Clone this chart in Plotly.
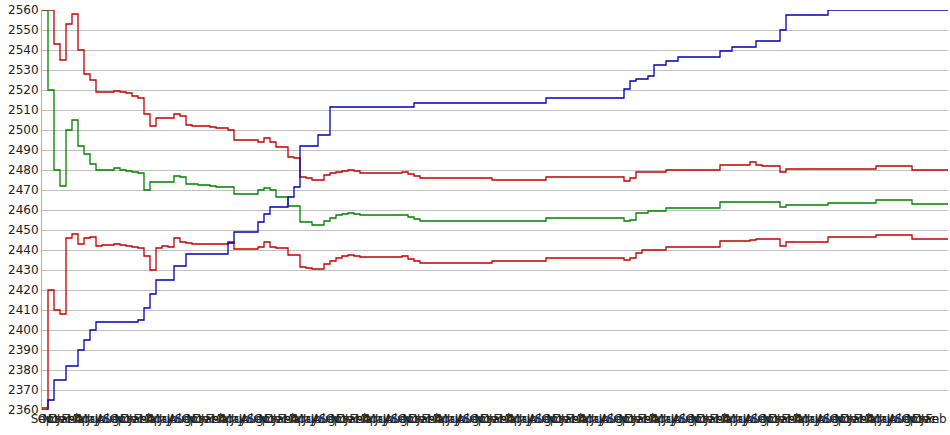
import plotly.graph_objects as go

months = ["Sep", "Oct", "Nov", "Dec", "Jan", "Feb", "Mar", "Apr", "May", "Jun", "Jul", "Aug"]

blue_vals = [
    2360, 2365, 2375, 2375, 2382, 2382, 2390, 2395, 2400, 2404,
    2404, 2404, 2404, 2404, 2404, 2404, 2405, 2411, 2418, 2425,
    2425, 2425, 2432, 2432, 2438, 2438, 2438, 2438, 2438, 2438,
    2438, 2443.5, 2449, 2449, 2449, 2449, 2454, 2458, 2461.5, 2461.5,
    2461.5, 2466.5, 2471.5, 2492, 2492, 2492, 2497.5, 2497.5, 2511.5, 2511.5,
    2511.5, 2511.5, 2511.5, 2511.5, 2511.5, 2511.5, 2511.5, 2511.5, 2511.5, 2511.5,
    2511.5, 2511.5, 2513.5, 2513.5, 2513.5, 2513.5, 2513.5, 2513.5, 2513.5, 2513.5,
    2513.5, 2513.5, 2513.5, 2513.5, 2513.5, 2513.5, 2513.5, 2513.5, 2513.5, 2513.5,
    2513.5, 2513.5, 2513.5, 2513.5, 2516, 2516, 2516, 2516, 2516, 2516,
    2516, 2516, 2516, 2516, 2516, 2516, 2516, 2520.5, 2524.5, 2525.5,
    2525.5, 2527, 2532.5, 2532.5, 2534.5, 2534.5, 2536.5, 2536.5, 2536.5, 2536.5,
    2536.5, 2536.5, 2536.5, 2539.5, 2539.5, 2541.5, 2541.5, 2541.5, 2541.5, 2544.5,
    2544.5, 2544.5, 2544.5, 2550, 2557.5, 2557.5, 2557.5, 2557.5, 2557.5, 2557.5,
    2557.5, 2560, 2560, 2560, 2560, 2560, 2560, 2560, 2560, 2560,
    2560, 2560, 2560, 2560, 2560, 2560, 2560, 2560, 2560, 2560,
    2560, 2560,
]

green_vals = [
    2560, 2520, 2480, 2472, 2500, 2505, 2492, 2488, 2483, 2480,
    2480, 2480, 2481, 2480, 2479.5, 2479, 2478.5, 2470, 2474, 2474,
    2474, 2474, 2477, 2476.5, 2473, 2473, 2472.5, 2472.5, 2472, 2471.5,
    2471.5, 2471.5, 2468, 2468, 2468, 2468, 2470, 2471, 2470, 2466.5,
    2466.5, 2462, 2462, 2454, 2454, 2452.5, 2452.5, 2454.5, 2456, 2457.5,
    2458, 2458.5, 2458, 2457.5, 2457.5, 2457.5, 2457.5, 2457.5, 2457.5, 2457.5,
    2457.5, 2456.5, 2455.5, 2454.5, 2454.5, 2454.5, 2454.5, 2454.5, 2454.5, 2454.5,
    2454.5, 2454.5, 2454.5, 2454.5, 2454.5, 2454.5, 2454.5, 2454.5, 2454.5, 2454.5,
    2454.5, 2454.5, 2454.5, 2454.5, 2456, 2456, 2456, 2456, 2456, 2456,
    2456, 2456, 2456, 2456, 2456, 2456, 2456, 2454.5, 2455, 2458.5,
    2458.5, 2459.5, 2459.5, 2459.5, 2461, 2461, 2461, 2461, 2461, 2461,
    2461, 2461, 2461, 2464, 2464, 2464, 2464, 2464, 2464, 2464,
    2464, 2464, 2464, 2461.5, 2462.5, 2462.5, 2462.5, 2462.5, 2462.5, 2462.5,
    2462.5, 2463.5, 2463.5, 2463.5, 2463.5, 2463.5, 2463.5, 2463.5, 2463.5, 2465,
    2465, 2465, 2465, 2465, 2465, 2463, 2463, 2463, 2463, 2463,
    2463, 2463,
]

upper_vals = [
    2560, 2560, 2543, 2535, 2553, 2558, 2540, 2528, 2525, 2519,
    2519, 2519, 2519.5, 2519, 2518.5, 2517, 2516, 2508, 2502, 2506,
    2506, 2506, 2508, 2507, 2502.5, 2502, 2502, 2502, 2501.5, 2501,
    2501, 2500, 2495, 2495, 2495, 2495, 2494, 2496, 2494, 2491.5,
    2491.5, 2486.5, 2486, 2476.5, 2476, 2475, 2475, 2477.5, 2478.5, 2479,
    2479.5, 2480, 2479.5, 2478.5, 2478.5, 2478.5, 2478.5, 2478.5, 2478.5, 2478.5,
    2479, 2478, 2477, 2476, 2476, 2476, 2476, 2476, 2476, 2476,
    2476, 2476, 2476, 2476, 2476, 2475, 2475, 2475, 2475, 2475,
    2475, 2475, 2475, 2475, 2476.5, 2476.5, 2476.5, 2476.5, 2476.5, 2476.5,
    2476.5, 2476.5, 2476.5, 2476.5, 2476.5, 2476.5, 2476.5, 2474.5, 2476, 2479,
    2479, 2479, 2479, 2479, 2480, 2480, 2480, 2480, 2480, 2480,
    2480, 2480, 2480, 2482.5, 2482.5, 2482.5, 2482.5, 2482.5, 2484, 2482.5,
    2482, 2482, 2482, 2479, 2480.5, 2480.5, 2480.5, 2480.5, 2480.5, 2480.5,
    2480.5, 2480.5, 2480.5, 2480.5, 2480.5, 2480.5, 2480.5, 2480.5, 2480.5, 2482,
    2482, 2482, 2482, 2482, 2482, 2480, 2480, 2480, 2480, 2480,
    2480, 2480,
]

lower_vals = [
    2361, 2420, 2410, 2408, 2446, 2448, 2443, 2446, 2446.5, 2442,
    2442.5, 2442.5, 2443, 2442.5, 2442, 2441.5, 2441, 2437, 2430, 2441,
    2442, 2441.5, 2446, 2444, 2443.5, 2443, 2443, 2443, 2443, 2443,
    2443, 2444, 2440.5, 2440.5, 2440.5, 2440.5, 2441.5, 2444, 2441.5, 2441,
    2441, 2437.5, 2437.5, 2431.5, 2431, 2430.5, 2430.5, 2433, 2434.5, 2436,
    2437, 2437.5, 2437, 2436.5, 2436.5, 2436.5, 2436.5, 2436.5, 2436.5, 2436.5,
    2437, 2435.5, 2434.5, 2433.5, 2433.5, 2433.5, 2433.5, 2433.5, 2433.5, 2433.5,
    2433.5, 2433.5, 2433.5, 2433.5, 2433.5, 2434.5, 2434.5, 2434.5, 2434.5, 2434.5,
    2434.5, 2434.5, 2434.5, 2434.5, 2436, 2436, 2436, 2436, 2436, 2436,
    2436, 2436, 2436, 2436, 2436, 2436, 2436, 2435, 2436, 2438.5,
    2440, 2440, 2440, 2440, 2441.5, 2441.5, 2441.5, 2441.5, 2441.5, 2441.5,
    2441.5, 2441.5, 2441.5, 2444.5, 2444.5, 2444.5, 2444.5, 2444.5, 2445, 2445.5,
    2445.5, 2445.5, 2445.5, 2442, 2444, 2444, 2444, 2444, 2444, 2444,
    2444, 2446.5, 2446.5, 2446.5, 2446.5, 2446.5, 2446.5, 2446.5, 2446.5, 2447.5,
    2447.5, 2447.5, 2447.5, 2447.5, 2447.5, 2445.5, 2445.5, 2445.5, 2445.5, 2445.5,
    2445.5, 2445.5,
]

n = len(blue_vals)
x_idx = list(range(n))
tick_labels = [months[i % len(months)] for i in range(n)]

fig = go.Figure()
fig.add_trace(go.Scatter(x=x_idx, y=upper_vals, mode="lines", line=dict(color="#C00000", width=1.3, shape="hv"), name="upper"))
fig.add_trace(go.Scatter(x=x_idx, y=green_vals, mode="lines", line=dict(color="#008000", width=1.3, shape="hv"), name="mean"))
fig.add_trace(go.Scatter(x=x_idx, y=lower_vals, mode="lines", line=dict(color="#C00000", width=1.3, shape="hv"), name="lower"))
fig.add_trace(go.Scatter(x=x_idx, y=blue_vals, mode="lines", line=dict(color="#0000B4", width=1.3, shape="hv"), name="value"))

font = dict(family="DejaVu Sans", size=12, color="#222222")
fig.update_layout(
    width=950, height=435,
    margin=dict(l=42, r=2, t=10, b=25),
    paper_bgcolor="white", plot_bgcolor="white",
    showlegend=False,
    font=font,
)
fig.update_xaxes(
    range=[0, n - 1], tickmode="array", tickvals=x_idx, ticktext=tick_labels,
    tickangle=0, showgrid=False, zeroline=False, showline=False, ticks="",
    tickfont=font,
)
fig.update_yaxes(
    range=[2360, 2560], dtick=10, tick0=2360, showgrid=True, gridcolor="#C0C0C0", gridwidth=1,
    zeroline=False, showline=True, linecolor="#B0B0B0", linewidth=1, ticks="",
    tickfont=font,
)
fig.write_html(
    "out.html",
    config={"displayModeBar": False},
    post_script="document.body.style.margin='0';document.body.style.overflow='hidden';",
)
